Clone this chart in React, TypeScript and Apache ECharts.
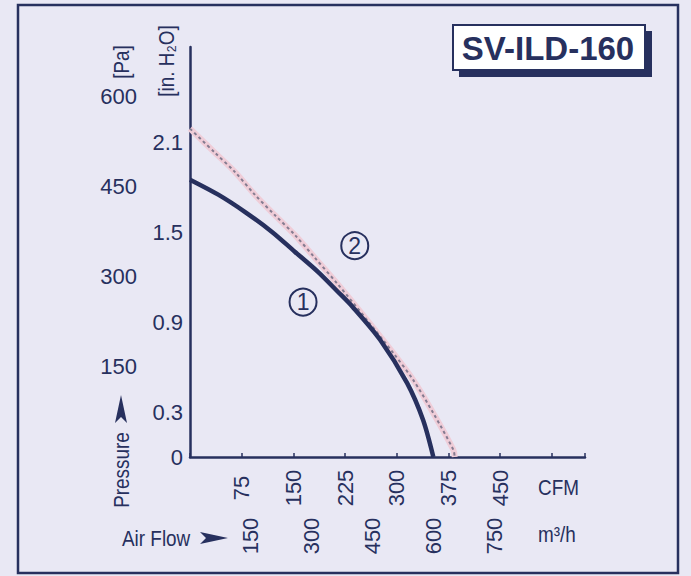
import React, { useEffect, useRef } from "react";
import * as echarts from "echarts";

// Fan curve data (x in CFM, y in Pa)
const curve1Cfm = [0, 41, 80, 119, 152, 186, 213, 236, 276, 315, 338, 353];
const curve1Pa = [462, 437, 408, 375, 342, 308, 277, 250, 195, 123, 62, 0];
const curve2Cfm = [0, 36, 65, 94, 123, 152, 181, 215, 257, 295, 324, 353, 382, 384];
const curve2Pa = [547, 507, 475, 437, 403, 370, 332, 287, 228, 173, 128, 73, 12, 0];

const cfmTicks = [75, 150, 225, 300, 375, 450];
const m3hTicks = [150, 300, 450, 600, 750];
const paTicks = [150, 300, 450, 600];
const inTicks = [0, 0.3, 0.9, 1.5, 2.1];

const label1 = { cfm: 164, pa: 258, text: "1" };
const label2 = { cfm: 239, pa: 352, text: "2" };

const title = "SV-ILD-160";

const NAVY = "#27305e";
const FONT = '"Liberation Sans", Arial, sans-serif';

const CFM_MAX = 573;
const PA_MAX = 683;
const CFM_TO_M3H = 1.699;
const PA_PER_IN = 249.09;

export default function App() {
  const ref = useRef<HTMLDivElement>(null);
  useEffect(() => {
    if (!ref.current) return;
    const chart = echarts.init(ref.current, undefined, { renderer: "svg" });
    const d1 = curve1Cfm.map((x, i) => [x, curve1Pa[i]]);
    const d2 = curve2Cfm.map((x, i) => [x, curve2Pa[i]]);
    const circleMark = (l: { cfm: number; pa: number; text: string }) => ({
      symbol: "circle",
      symbolSize: 27,
      silent: true,
      itemStyle: { color: "rgba(0,0,0,0)", borderColor: NAVY, borderWidth: 2 },
      label: {
        show: true,
        position: "inside",
        formatter: l.text,
        color: NAVY,
        fontSize: 23,
        fontFamily: FONT,
      },
      data: [{ coord: [l.cfm, l.pa] }],
    });
    const labelFont = { color: NAVY, fontSize: 22, fontFamily: FONT };
    const txt = (text: string, x: number, y: number, opts: any = {}) => ({
      type: "text",
      x,
      y,
      scaleX: 0.86,
      rotation: opts.rotation || 0,
      style: {
        text,
        fill: NAVY,
        font: `${opts.size || 22}px ${FONT}`,
        align: opts.align || "center",
        verticalAlign: "middle",
      },
    });
    chart.setOption({
      animation: false,
      backgroundColor: "#e9e8f4",
      grid: { left: 190, top: 47, width: 395, height: 410, containLabel: false },
      xAxis: [
        {
          type: "value",
          min: 0,
          max: CFM_MAX,
          interval: 75,
          position: "bottom",
          axisLine: { show: true, lineStyle: { color: NAVY, width: 2.5 } },
          axisTick: { show: true, inside: true, length: 4, lineStyle: { color: NAVY, width: 1.5 } },
          splitLine: { show: false },
          axisLabel: {
            ...labelFont,
            rotate: 90,
            align: "center",
            verticalAlign: "middle",
            margin: 31,
            formatter: (v: number) => (cfmTicks.includes(Math.round(v)) ? String(Math.round(v)) : ""),
          },
        },
        {
          type: "value",
          min: 0,
          max: CFM_MAX * CFM_TO_M3H,
          interval: 150,
          position: "bottom",
          axisLine: { show: false },
          axisTick: { show: false },
          splitLine: { show: false },
          axisLabel: {
            ...labelFont,
            rotate: 90,
            align: "center",
            verticalAlign: "middle",
            margin: 79,
            showMaxLabel: false,
            formatter: (v: number) => (m3hTicks.includes(Math.round(v)) ? String(Math.round(v)) : ""),
          },
        },
      ],
      yAxis: [
        {
          type: "value",
          min: 0,
          max: PA_MAX,
          interval: 150,
          position: "left",
          axisLine: { show: true, lineStyle: { color: NAVY, width: 2.5 } },
          axisTick: { show: false },
          splitLine: { show: false },
          axisLabel: {
            ...labelFont,
            margin: 53,
            formatter: (v: number) => (paTicks.includes(Math.round(v)) ? String(Math.round(v)) : ""),
          },
        },
        {
          type: "value",
          min: 0,
          max: PA_MAX / PA_PER_IN,
          interval: 0.3,
          position: "left",
          axisLine: { show: false },
          axisTick: { show: false },
          splitLine: { show: false },
          axisLabel: {
            ...labelFont,
            margin: 7,
            showMaxLabel: false,
            formatter: (v: number) => {
              const r = Math.round(v * 10);
              const hit = inTicks.find((t) => Math.round(t * 10) === r);
              if (hit === undefined) return "";
              return hit === 0 ? "0" : hit.toFixed(1);
            },
          },
        },
      ],
      series: [
        {
          type: "line",
          name: "2-halo",
          data: d2,
          xAxisIndex: 0,
          yAxisIndex: 0,
          symbol: "none",
          smooth: 0.3,
          silent: true,
          lineStyle: { color: "#efcdd8", width: 6 },
        },
        {
          type: "line",
          name: "2",
          data: d2,
          xAxisIndex: 0,
          yAxisIndex: 0,
          symbol: "none",
          smooth: 0.3,
          lineStyle: { color: "#847b90", width: 2, type: [3, 3] },
          markPoint: circleMark(label2),
        },
        {
          type: "line",
          name: "1",
          data: d1,
          xAxisIndex: 0,
          yAxisIndex: 0,
          symbol: "none",
          smooth: 0.3,
          lineStyle: { color: NAVY, width: 4.5 },
          markPoint: circleMark(label1),
        },
      ],
      graphic: [
        {
          type: "rect",
          shape: { x: 18, y: 5, width: 660, height: 568 },
          style: { fill: "none", stroke: NAVY, lineWidth: 2.5 },
          silent: true,
        },
        {
          type: "rect",
          shape: { x: 459, y: 31, width: 193, height: 46 },
          style: { fill: NAVY },
        },
        {
          type: "rect",
          shape: { x: 453, y: 25, width: 192, height: 45 },
          style: { fill: "#ffffff", stroke: NAVY, lineWidth: 2 },
        },
        {
          type: "text",
          x: 548,
          y: 48,
          style: {
            text: title,
            fill: NAVY,
            font: `bold 33px ${FONT}`,
            align: "center",
            verticalAlign: "middle",
          },
        },
        txt("[Pa]", 121, 62, { rotation: Math.PI / 2, size: 22 }),
        txt("[in. H₂O]", 166, 61, { rotation: Math.PI / 2, size: 22 }),
        txt("Pressure", 121, 470, { rotation: Math.PI / 2 }),
        {
          type: "polygon",
          shape: { points: [[115, 423], [121, 395], [127, 423], [121, 417]] },
          style: { fill: NAVY },
        },
        txt("Air Flow", 122, 538, { align: "left" }),
        {
          type: "polygon",
          shape: { points: [[200, 532], [228, 538], [200, 544], [206, 538]] },
          style: { fill: NAVY },
        },
        txt("CFM", 538, 487, { align: "left" }),
        txt("m³/h", 538, 534, { align: "left" }),
      ],
    });
    return () => chart.dispose();
  }, []);
  return (
    <div
      ref={ref}
      style={{ position: "fixed", left: 0, top: 0, width: 691, height: 576 }}
    />
  );
}
